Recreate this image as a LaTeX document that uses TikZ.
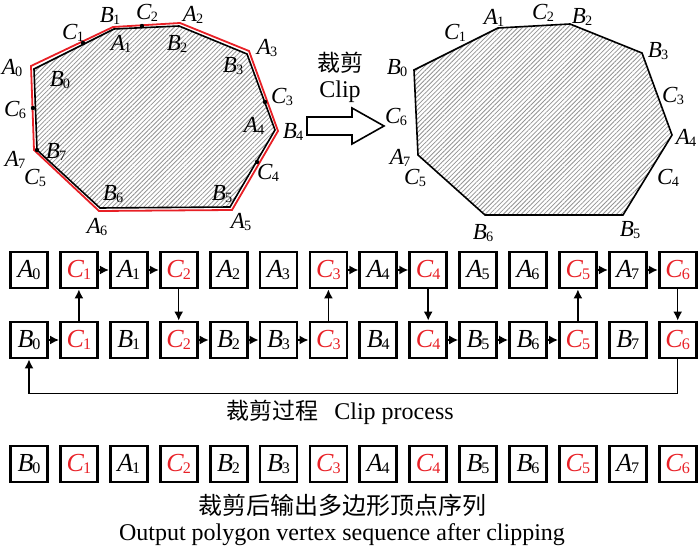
\documentclass[tikz,border=0pt]{standalone}
\usepackage{fontspec}
\setmainfont{Liberation Serif}
\newfontfamily\cjk{Noto Sans CJK SC}
\usetikzlibrary{positioning, arrows.meta, patterns.meta, calc}
\newcommand{\vx}[2]{\textit{#1}\kern-0.04em\raisebox{-0.12ex}{\scalebox{0.62}{#2}}}

\begin{document}
\begin{tikzpicture}[x=0.5pt, y=-0.5pt, >=Latex]
    \definecolor{cred}{RGB}{232, 32, 38}
    \tikzset{
        vbox/.style={draw, line width=1.4pt, minimum width=18.5pt, minimum height=18pt, inner sep=0pt, font=\fontsize{13}{15}\selectfont},
        vlab/.style={inner sep=0pt, font=\fontsize{11.5}{13}\selectfont},
        txtlab/.style={inner sep=0pt, font=\fontsize{11.5}{13}\selectfont},
        arr/.style={-{Latex[length=4.5pt, width=4.5pt]}, line width=0.75pt},
        hatch/.style={pattern={Lines[angle=45, distance=1.6pt, line width=0.4pt]}, pattern color=gray!85}
    }
    \useasboundingbox (0,0) rectangle (700,550);

    % left polygon
    \coordinate (pA0) at (31,66);  \coordinate (pA1) at (113,27);
    \coordinate (pA2) at (180,23); \coordinate (pA3) at (249,51);
    \coordinate (pA4) at (278,131); \coordinate (pA5) at (232,210);
    \coordinate (pA6) at (99,211); \coordinate (pA7) at (34,150);
    \coordinate (pB0) at (34,69);  \coordinate (pB1) at (114,29);
    \coordinate (pB2) at (179,26); \coordinate (pB3) at (247,54);
    \coordinate (pB4) at (275,130); \coordinate (pB5) at (230,207);
    \coordinate (pB6) at (100,208); \coordinate (pB7) at (37,150);
    \fill[hatch] (pB0) -- (pB1) -- (pB2) -- (pB3) -- (pB4) -- (pB5) -- (pB6) -- (pB7) -- cycle;
    \draw[cred, line width=0.9pt] (pA0) -- (pA1) -- (pA2) -- (pA3) -- (pA4) -- (pA5) -- (pA6) -- (pA7) -- cycle;
    \draw[line width=0.8pt] (pB0) -- (pB1) -- (pB2) -- (pB3) -- (pB4) -- (pB5) -- (pB6) -- (pB7) -- cycle;
    \foreach \n/\x/\y in {1/83/43, 2/142/26, 3/265/102, 4/257/162, 5/37/150, 6/33/108}
        \fill (\x,\y) coordinate (pC\n) circle (2.2);
    \foreach \l/\n/\x/\y in {B/1/110/16, C/2/147/13, A/2/193/15, C/1/73/33, A/1/121/44, B/2/177/44,
        A/3/267/48, A/0/12/68, B/0/60/80, B/3/233/66, C/3/282/97, C/6/15/110, A/4/254/126,
        B/4/293/132, B/7/56/152, A/7/15/160, C/5/35/178, C/4/268/173, B/6/113/194,
        B/5/222/194, A/6/97/227, A/5/241/222}
        \node[vlab] (l\l\n) at (\x,\y) {\vx{\l}{\n}};

    % clip arrow
    \draw[line width=0.8pt, fill=white] (307,117) -- (352,117) -- (352,108) -- (384,126)
        -- (352,144) -- (352,135) -- (307,135) -- cycle;
    \node[txtlab] (clipcn) at (340,63) {\cjk 裁剪};
    \node[txtlab, font=\fontsize{12}{14}\selectfont] (clipen) at (340,92) {Clip};

    % right polygon
    \coordinate (qB0) at (414,70);  \coordinate (qA1) at (498,28);
    \coordinate (qB2) at (570,24);  \coordinate (qB3) at (642,53);
    \coordinate (qA4) at (672,135); \coordinate (qB5) at (623,215);
    \coordinate (qB6) at (485,215); \coordinate (qA7) at (418,155);
    \fill[hatch] (qB0) -- (qA1) -- (qB2) -- (qB3) -- (qA4) -- (qB5) -- (qB6) -- (qA7) -- cycle;
    \draw[line width=0.8pt] (qB0) -- (qA1) -- (qB2) -- (qB3) -- (qA4) -- (qB5) -- (qB6) -- (qA7) -- cycle;
    \foreach \l/\n/\x/\y in {C/1/455/33, A/1/494/18, C/2/543/13, B/2/582/17, B/3/658/51,
        B/0/397/68, C/3/673/96, C/6/396/117, A/4/686/138, A/7/400/158, C/5/415/178,
        C/4/668/178, B/6/483/233, B/5/630/230}
        \node[vlab] (r\l\n) at (\x,\y) {\vx{\l}{\n}};

    % clip process lists
    \foreach \l/\n/\c [count=\i from 0] in {A/0/black, C/1/cred, A/1/black, C/2/cred, A/2/black,
        A/3/black, C/3/cred, A/4/black, C/4/cred, A/5/black, A/6/black, C/5/cred, A/7/black, C/6/cred}
        \node[vbox, text=\c] (a\i) at ({29+49.9*\i},270) {\vx{\l}{\n}};
    \foreach \l/\n/\c [count=\i from 0] in {B/0/black, C/1/cred, B/1/black, C/2/cred, B/2/black,
        B/3/black, C/3/cred, B/4/black, C/4/cred, B/5/black, B/6/black, C/5/cred, B/7/black, C/6/cred}
        \node[vbox, text=\c] (b\i) at ({29+49.9*\i},340) {\vx{\l}{\n}};
    \foreach \s/\t in {1/2, 2/3, 6/7, 7/8, 11/12, 12/13}
        \draw[arr] (a\s) -- (a\t);
    \foreach \s/\t in {0/1, 3/4, 4/5, 5/6, 8/9, 9/10, 10/11}
        \draw[arr] (b\s) -- (b\t);
    \foreach \i in {1, 6, 11}
        \draw[arr] (b\i) -- (a\i);
    \foreach \i in {3, 8, 13}
        \draw[arr] (a\i) -- (b\i);
    \draw[arr] (b13.south) -- ++(0,34) -| (b0.south);
    \node[txtlab] (proc) at (340,412) {{\cjk 裁剪过程}\hspace{0.7em}{\fontsize{12}{14}\selectfont Clip process}};

    % output sequence
    \foreach \l/\n/\c [count=\i from 0] in {B/0/black, C/1/cred, A/1/black, C/2/cred, B/2/black,
        B/3/black, C/3/cred, A/4/black, C/4/cred, B/5/black, B/6/black, C/5/cred, A/7/black, C/6/cred}
        \node[vbox, text=\c] (o\i) at ({29+49.9*\i},464) {\vx{\l}{\n}};
    \node[txtlab, font=\fontsize{12}{14}\selectfont] (outcn) at (342,505) {\cjk 裁剪后输出多边形顶点序列};
    \node[txtlab, font=\fontsize{12}{14}\selectfont] (outen) at (342,535) {Output polygon vertex sequence after clipping};
\end{tikzpicture}
\end{document}
